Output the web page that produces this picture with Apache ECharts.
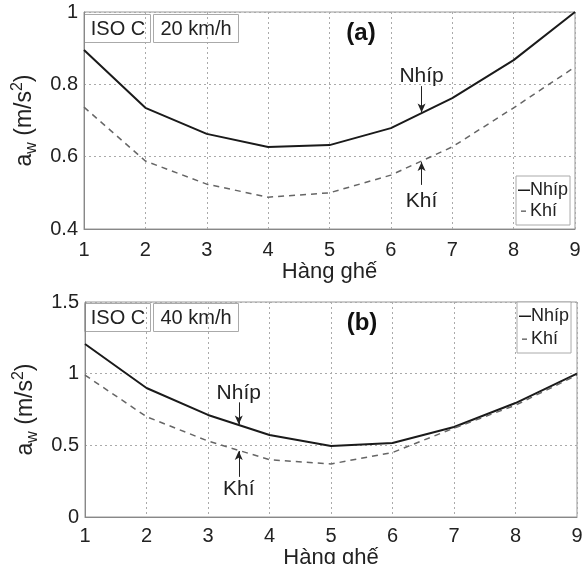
<!DOCTYPE html>
<html><head><meta charset="utf-8">
<script src="https://cdn.jsdelivr.net/npm/echarts@6/dist/echarts.min.js"></script>
<style>html,body{margin:0;padding:0;background:#fff}#c{width:582px;height:564px}</style>
</head><body><div id="c"></div>
<script>
const rows = [1, 2, 3, 4, 5, 6, 7, 8, 9];
const nhip20 = [0.895, 0.735, 0.663, 0.627, 0.632, 0.679, 0.762, 0.867, 1.0];
const khi20  = [0.737, 0.588, 0.524, 0.488, 0.500, 0.549, 0.627, 0.735, 0.848];
const nhip40 = [1.207, 0.900, 0.712, 0.572, 0.495, 0.516, 0.628, 0.795, 1.0];
const khi40  = [0.990, 0.700, 0.530, 0.400, 0.370, 0.450, 0.620, 0.780, 0.990];
const yTicksA = [0.4, 0.6, 0.8, 1];
const yTicksB = [0, 0.5, 1, 1.5];
const seriesNames = ['Nhíp', 'Khí'];
const xName = 'Hàng ghế';

const FONT = '"Liberation Sans", Arial, sans-serif';
const INK = '#222';

function pairs(vals){ return rows.map((r,i)=>[r, vals[i]]); }

function yAxis(gi, ticks){
  return {
    type:'value', gridIndex:gi, min:ticks[0], max:ticks[ticks.length-1],
    interval:ticks[1]-ticks[0],
    axisLine:{show:true, lineStyle:{color:'#888'}},
    axisTick:{show:false},
    axisLabel:{fontFamily:FONT, fontSize:20, color:INK, margin:6,
      formatter:v=>String(Math.round(v*10)/10)},
    splitLine:{show:true, lineStyle:{color:'#aaa', type:[2,3], width:1}},
    name:'{a|a}{s|w}{a| (m/s}{p|2}{a|)}',
    nameLocation:'middle', nameRotate:90, nameGap:26,
    nameTextStyle:{rich:{
      a:{fontFamily:FONT, fontSize:23, color:INK, lineHeight:30, verticalAlign:'middle'},
      s:{fontFamily:FONT, fontSize:16, color:INK, verticalAlign:'bottom'},
      p:{fontFamily:FONT, fontSize:16, color:INK, verticalAlign:'top'}
    }}
  };
}
function xAxis(gi, margin, gap){
  return {
    type:'value', gridIndex:gi, min:1, max:9, interval:1,
    axisLine:{show:true, onZero:false, lineStyle:{color:'#888'}},
    axisTick:{show:false},
    axisLabel:{fontFamily:FONT, fontSize:20, color:INK, margin:margin},
    splitLine:{show:true, lineStyle:{color:'#aaa', type:[2,3], width:1}},
    name:xName, nameLocation:'middle', nameGap:gap,
    nameTextStyle:{fontFamily:FONT, fontSize:22, color:INK}
  };
}

function annot(items){
  return {
    markLine:{silent:true, animation:false, symbol:['none','arrow'], symbolSize:[6,9],
      label:{show:false}, lineStyle:{type:'solid', color:INK, width:1},
      data: items.map(a=>[{coord:[a.x, a.from]},{coord:[a.x, a.to]}])},
    markPoint:{silent:true, animation:false, symbol:'circle', symbolSize:0,
      label:{show:true, position:'inside', fontFamily:FONT, fontSize:21, color:INK, formatter:p=>p.name},
      data: items.map(a=>({name:a.text, coord:[a.x, a.textY]}))}
  };
}

function lineSeries(name, vals, gi, dashed, ann){
  return Object.assign({
    name, type:'line', xAxisIndex:gi, yAxisIndex:gi, data:pairs(vals),
    symbol:'none', animation:false,
    lineStyle: dashed ? {color:'#666', width:1.5, type:[6,5]} : {color:'#1a1a1a', width:2},
    itemStyle:{color: dashed ? '#666' : '#1a1a1a'}
  }, ann ? annot(ann) : {});
}

function tagBoxes(top, speed){
  const h = 28;
  return [
    {type:'rect', shape:{x:84.5,y:top+0.5,width:66,height:h}, style:{fill:'#fff', stroke:'#aaa', lineWidth:1}},
    {type:'text', x:118, y:top+h/2+1, style:{text:'ISO C', font:'20px '+FONT, fill:INK, align:'center', verticalAlign:'middle'}},
    {type:'rect', shape:{x:153.5,y:top+0.5,width:85,height:h}, style:{fill:'#fff', stroke:'#aaa', lineWidth:1}},
    {type:'text', x:196, y:top+h/2+1, style:{text:speed, font:'20px '+FONT, fill:INK, align:'center', verticalAlign:'middle'}}
  ];
}

const ICON_SOLID = 'path://M0,0 L0,0 M0,6.5 H12 V8 H0 Z M12,14 L12,14';
const ICON_DASH  = 'path://M0,0 L0,0 M3,6.5 H8 V7.8 H3 Z M12,14 L12,14';
function legend(left, top, gap){
  return {left, top, orient:'vertical', selectedMode:false,
    data:[{name:seriesNames[0], icon:ICON_SOLID, itemStyle:{color:'#1a1a1a'}},
          {name:seriesNames[1], icon:ICON_DASH, itemStyle:{color:'#555'}}],
    itemWidth:12, itemHeight:14, itemGap:gap, padding:[5,2,5,2],
    borderColor:'#aaa', borderWidth:1, backgroundColor:'#fff',
    textStyle:{fontFamily:FONT, fontSize:18, color:INK, padding:[0,0,0,-5]}};
}

const chart = echarts.init(document.getElementById('c'), null, {renderer:'canvas'});
chart.setOption({
  backgroundColor:'#fff',
  animation:false,
  grid:[
    {left:84, top:12, width:491, height:217, show:true, borderColor:'#999', borderWidth:1, containLabel:false, outerBoundsMode:'none'},
    {left:85, top:302, width:492, height:215, show:true, borderColor:'#999', borderWidth:1, containLabel:false, outerBoundsMode:'none'}
  ],
  xAxis:[xAxis(0, 11, 26), xAxis(1, 9, 23)],
  yAxis:[yAxis(0, yTicksA), yAxis(1, yTicksB)],
  legend:[legend(516, 176, 3), legend(517, 302, 5)],
  graphic:[].concat(
    tagBoxes(14, '20 km/h'),
    tagBoxes(303, '40 km/h'),
    [
      {type:'text', x:361, y:33, style:{text:'(a)', font:'bold 24px '+FONT, fill:'#111', align:'center', verticalAlign:'middle'}},
      {type:'text', x:362, y:323, style:{text:'(b)', font:'bold 24px '+FONT, fill:'#111', align:'center', verticalAlign:'middle'}}
    ]
  ),
  series:[
    lineSeries('Nhíp', nhip20, 0, false, [{text:'Nhíp', x:6.5, textY:0.823, from:0.795, to:0.722}]),
    lineSeries('Khí', khi20, 0, true, [{text:'Khí', x:6.5, textY:0.478, from:0.522, to:0.585}]),
    lineSeries('Nhíp', nhip40, 1, false, [{text:'Nhíp', x:3.5, textY:0.865, from:0.80, to:0.645}]),
    lineSeries('Khí', khi40, 1, true, [{text:'Khí', x:3.5, textY:0.195, from:0.28, to:0.46}])
  ]
});
</script></body></html>
